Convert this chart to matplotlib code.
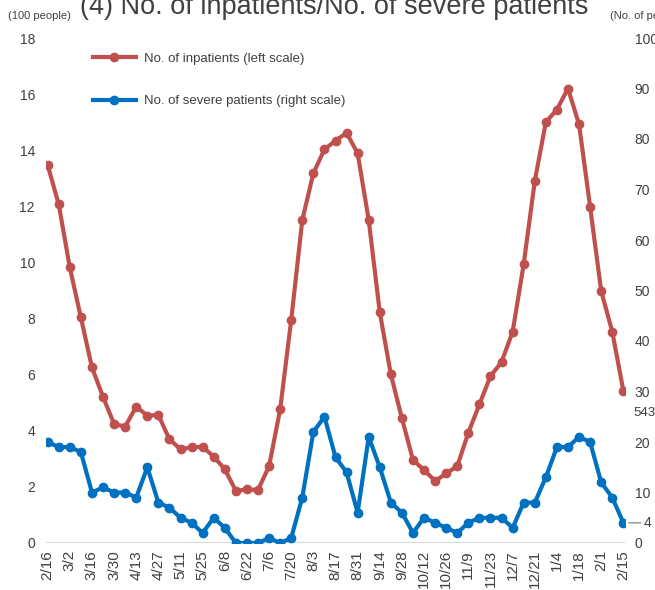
import matplotlib.pyplot as plt
import numpy as np

plt.rcParams['font.family'] = ['Liberation Sans', 'DejaVu Sans']

# weekly points, labels every second week
tick_labels = ['2/16', '3/2', '3/16', '3/30', '4/13', '4/27', '5/11', '5/25', '6/8',
               '6/22', '7/6', '7/20', '8/3', '8/17', '8/31', '9/14', '9/28', '10/12',
               '10/26', '11/9', '11/23', '12/7', '12/21', '1/4', '1/18', '2/1', '2/15']

# inpatients, hundreds of people (left scale)
inpatients = [13.47, 12.07, 9.82, 8.04, 6.26, 5.21, 4.24, 4.15, 4.86, 4.54, 4.56, 3.70,
              3.34, 3.41, 3.43, 3.08, 2.63, 1.86, 1.91, 1.89, 2.74, 4.76, 7.95, 11.51,
              13.18, 14.03, 14.34, 14.62, 13.89, 11.51, 8.22, 6.01, 4.44, 2.96, 2.60,
              2.21, 2.48, 2.74, 3.93, 4.94, 5.95, 6.45, 7.53, 9.94, 12.90, 15.00, 15.45,
              16.20, 14.92, 11.98, 8.98, 7.53, 5.43]

# severe patients, people (right scale)
severe = [20, 19, 19, 18, 10, 11, 10, 10, 9, 15, 8, 7, 5, 4, 2, 5, 3, 0, 0, 0, 1, 0, 1,
          9, 22, 25, 17, 14, 6, 21, 15, 8, 6, 2, 5, 4, 3, 2, 4, 5, 5, 5, 3, 8, 8, 13, 19,
          19, 21, 20, 12, 9, 4]

red = '#C0504D'
blue = '#0070C0'
txt = '#404040'

x = np.arange(len(inpatients))

fig = plt.figure(figsize=(6.55, 5.9), dpi=100)
ax = fig.add_axes([46 / 655, 47 / 590, 579 / 655, 505 / 590])
ax2 = ax.twinx()

l1, = ax.plot(x, inpatients, color=red, lw=3, marker='o', ms=6,
              label='No. of inpatients (left scale)')
l2, = ax2.plot(x, severe, color=blue, lw=3, marker='o', ms=6,
               label='No. of severe patients (right scale)')

ax.set_xlim(-0.15, len(x) - 0.85)
ax.set_ylim(0, 18)
ax2.set_ylim(0, 100)
ax.set_yticks(np.arange(0, 19, 2))
ax2.set_yticks(np.arange(0, 101, 10))
ax.set_xticks(x[::2])
ax.set_xticklabels(tick_labels, rotation=90, fontsize=11, color=txt)

for a in (ax, ax2):
    for s in a.spines.values():
        s.set_visible(False)
    a.tick_params(length=0, labelsize=10, labelcolor=txt)
ax.tick_params(axis='y', pad=8)
ax2.tick_params(axis='y', pad=7)
ax.tick_params(axis='x', pad=5, labelsize=11)
ax.axhline(0, color='#d9d9d9', lw=1.5, zorder=0)

# end labels
ax.annotate('543', (x[-1], inpatients[-1]), xytext=(10, -22), textcoords='offset pixels',
            fontsize=9.5, color=txt, ha='left', va='center', annotation_clip=False)
ax2.annotate('4', (x[-1], severe[-1]), xytext=(20, 0), textcoords='offset pixels',
             fontsize=10, color=txt, ha='left', va='center', annotation_clip=False,
             arrowprops=dict(arrowstyle='-', color='#a0a0a0', lw=1.2,
                             shrinkA=0, shrinkB=4))

ax.legend(handles=[l1, l2], loc='upper left', bbox_to_anchor=(0.06, 0.995),
          frameon=False, fontsize=9.5, labelcolor=txt, handlelength=3.3,
          labelspacing=2.3, handletextpad=0.6)

fig.text(0.51, 1 - 14 / 590, '(4) No. of inpatients/No. of severe patients',
         ha='center', va='baseline', fontsize=19.5, color=txt)
fig.text(8 / 655, 1 - 19 / 590, '(100 people)', ha='left', va='baseline',
         fontsize=8, color=txt)
fig.text(610 / 655, 1 - 19 / 590, '(No. of people)', ha='left', va='baseline',
         fontsize=8, color=txt)

fig.savefig('out.png', dpi=100)
